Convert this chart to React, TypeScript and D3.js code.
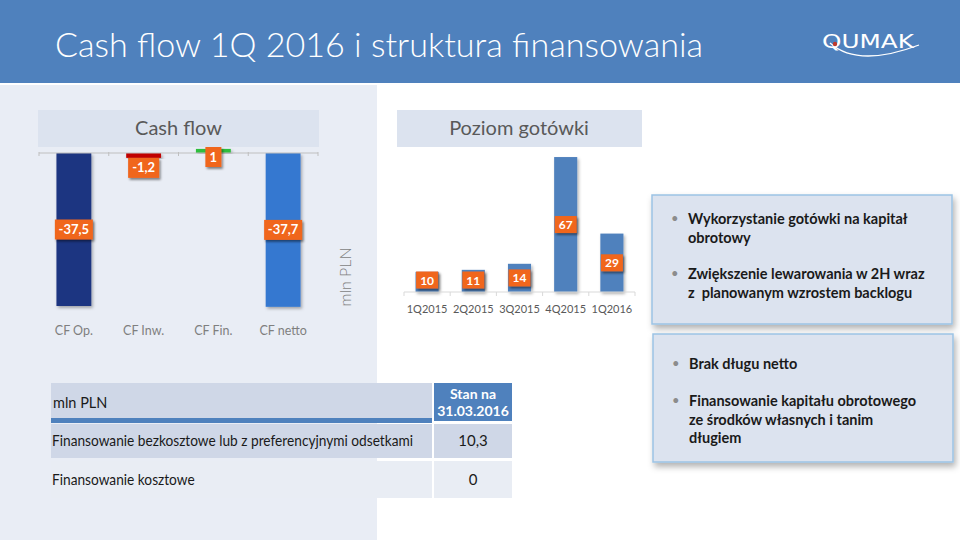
import React from "react";
import * as d3 from "d3";

const cfCategories = ["CF Op.", "CF Inw.", "CF Fin.", "CF netto"];
const cfValues = [-37.5, -1.2, 1, -37.7];
const cfColors = ["#1F3581", "#C00000", "#2DBE3C", "#3478D0"];

const cashCategories = ["1Q2015", "2Q2015", "3Q2015", "4Q2015", "1Q2016"];
const cashValues = [10, 11, 14, 67, 29];

const bulletsTop = [
  ["Wykorzystanie gotówki na kapitał", "obrotowy"],
  ["Zwiększenie lewarowania w 2H wraz", "z  planowanym wzrostem backlogu"],
];
const bulletsBottom = [
  ["Brak długu netto"],
  ["Finansowanie kapitału obrotowego", "ze środków własnych i tanim", "długiem"],
];

const tableHeader = ["mln PLN", "Stan na", "31.03.2016"];
const tableRowLabels = [
  "Finansowanie bezkosztowe lub z preferencyjnymi odsetkami",
  "Finansowanie kosztowe",
];
const tableRowValues = [10.3, 0];

const FONT = "Lato, 'Open Sans', sans-serif";
const ORANGE = "#F0661F";

const plLocale = d3.formatLocale({
  decimal: ",",
  thousands: " ",
  grouping: [3],
  currency: ["", " zł"],
  minus: "-",
});
const fmt = plLocale.format(".1~f");

function BulletBox({ x, y, w, h, items, baselines }: any) {
  let k = 0;
  return (
    <g>
      <rect x={x} y={y} width={w} height={h} fill="#DCE3EF" stroke="#9CC3E5" strokeWidth={1.5} filter="url(#boxsh)" />
      {items.map((lines: string[], i: number) => (
        <g key={i}>
          <text x={x + 19} y={baselines[k] - 1} fontSize={13} fill="#8C8C8C" fontFamily={FONT}>•</text>
          {lines.map((ln, j) => {
            const by = baselines[k++];
            return (
              <text key={j} x={x + 36} y={by} fontSize={14.5} fontWeight={700} fill="#1A1A1A" fontFamily={FONT} style={{ whiteSpace: "pre" }}>
                {ln}
              </text>
            );
          })}
        </g>
      ))}
    </g>
  );
}

export default function App() {
  // Cash flow chart scales
  const xCF = d3.scaleBand<string>().domain(cfCategories).range([39, 318]).paddingInner(0.5).paddingOuter(0.25);
  const yCF = d3.scaleLinear().domain([0, -40]).range([153, 153 + 163.2]);
  const stepCF = xCF.step();

  // Cash level chart scales
  const xCash = d3.scaleBand<string>().domain(cashCategories).range([404, 635]).paddingInner(0.5).paddingOuter(0.25);
  const yCash = d3.scaleLinear().domain([0, 70]).range([292, 292 - 141]);
  const stepCash = xCash.step();

  return (
    <svg width={960} height={540} style={{ position: "absolute", left: 0, top: 0, background: "#fff" }} fontFamily={FONT}>
      <defs>
        <filter id="sh" x="-30%" y="-30%" width="170%" height="170%">
          <feDropShadow dx={1.5} dy={2} stdDeviation={1.2} floodColor="#000" floodOpacity={0.45} />
        </filter>
        <filter id="barsh" x="-30%" y="-10%" width="170%" height="130%">
          <feDropShadow dx={1.5} dy={2} stdDeviation={1.5} floodColor="#000" floodOpacity={0.3} />
        </filter>
        <filter id="boxsh" x="-10%" y="-10%" width="120%" height="130%">
          <feDropShadow dx={2} dy={4} stdDeviation={3} floodColor="#000" floodOpacity={0.3} />
        </filter>
      </defs>

      {/* header */}
      <rect x={0} y={0} width={960} height={83} fill="#4F81BD" />
      <text x={55} y={57} fontSize={33} fontWeight={300} fill="#FFFFFF" fontFamily={FONT} textLength={648} lengthAdjust="spacingAndGlyphs">
        Cash flow 1Q 2016 i struktura finansowania
      </text>
      {/* logo */}
      <g>
        <text x={822} y={48} fontSize={19} fill="#FFFFFF" fontFamily="'DejaVu Sans', sans-serif" textLength={92} lengthAdjust="spacingAndGlyphs">QUMAK</text>
        <path d="M 830 43 Q 858 68 919 45" fill="none" stroke="#FFFFFF" strokeWidth={1.3} />
        <circle cx={835} cy={44} r={2.2} fill="#C0392B" />
      </g>

      {/* left panel */}
      <rect x={0} y={85} width={377} height={455} fill="#E9EDF5" />

      {/* Cash flow chart */}
      <rect x={38} y={110} width={281} height={37} fill="#DCE3EF" />
      <text x={178.5} y={135} textAnchor="middle" fontSize={20} fill="#595959">Cash flow</text>

      {cfCategories.map((c, i) => {
        const v = cfValues[i];
        const x = xCF(c)!;
        const y0 = yCF(0);
        const y1 = yCF(v);
        return (
          <rect key={c} x={x} y={Math.min(y0, y1)} width={xCF.bandwidth()} height={Math.abs(y1 - y0)} fill={cfColors[i]} filter="url(#barsh)" />
        );
      })}
      <line x1={39} x2={318} y1={yCF(0)} y2={yCF(0)} stroke="#BFBFBF" strokeWidth={1} />
      {d3.range(cfCategories.length + 1).map((i) => (
        <line key={i} x1={39 + i * stepCF} x2={39 + i * stepCF} y1={yCF(0) - 1} y2={yCF(0) + 3} stroke="#BFBFBF" />
      ))}
      {cfCategories.map((c, i) => {
        const v = cfValues[i];
        const cx = xCF(c)! + xCF.bandwidth() / 2;
        const hpx = Math.abs(yCF(v) - yCF(0));
        let cy;
        if (hpx > 25) cy = (yCF(v) + yCF(0)) / 2;
        else if (v < 0) cy = yCF(v) + 10;
        else cy = yCF(0) + 4;
        const label = fmt(v);
        const w = Math.max(16, label.length * 7 + 3);
        return (
          <g key={c}>
            <rect x={cx - w / 2} y={cy - 10} width={w} height={20} fill={ORANGE} filter="url(#sh)" />
            <text x={cx} y={cy + 4.5} textAnchor="middle" fontSize={13} fontWeight={700} fill="#FFFFFF">{label}</text>
          </g>
        );
      })}
      {cfCategories.map((c) => (
        <text key={c} x={xCF(c)! + xCF.bandwidth() / 2} y={335} textAnchor="middle" fontSize={12.5} fill="#7F7F7F">{c}</text>
      ))}
      <text transform="translate(351,277) rotate(-90)" textAnchor="middle" fontSize={16} fontWeight={300} fill="#7F7F7F">mln PLN</text>

      {/* Poziom gotówki chart */}
      <rect x={397} y={110} width={245} height={37} fill="#DCE3EF" />
      <text x={519} y={135} textAnchor="middle" fontSize={20} fill="#595959">Poziom gotówki</text>
      {cashCategories.map((c, i) => (
        <rect key={c} x={xCash(c)!} y={yCash(cashValues[i])} width={xCash.bandwidth()} height={yCash(0) - yCash(cashValues[i])} fill="#4F81BD" filter="url(#barsh)" />
      ))}
      <line x1={404} x2={635} y1={yCash(0)} y2={yCash(0)} stroke="#D9D9D9" />
      {d3.range(cashCategories.length + 1).map((i) => (
        <line key={i} x1={404 + i * stepCash} x2={404 + i * stepCash} y1={yCash(0)} y2={yCash(0) + 4} stroke="#D9D9D9" />
      ))}
      {cashCategories.map((c, i) => {
        const v = cashValues[i];
        const cx = xCash(c)! + xCash.bandwidth() / 2;
        const cy = Math.min((yCash(v) + yCash(0)) / 2, yCash(0) - 12);
        return (
          <g key={c}>
            <rect x={cx - 11} y={cy - 8.5} width={22} height={17} fill={ORANGE} filter="url(#sh)" />
            <text x={cx} y={cy + 4.5} textAnchor="middle" fontSize={12} fontWeight={700} fill="#FFFFFF">{fmt(v)}</text>
          </g>
        );
      })}
      {cashCategories.map((c) => (
        <text key={c} x={xCash(c)! + xCash.bandwidth() / 2} y={313} textAnchor="middle" fontSize={11} fill="#595959">{c}</text>
      ))}

      {/* bullet boxes */}
      <BulletBox x={652} y={195} w={300} h={129} items={bulletsTop} baselines={[224, 243, 279, 298]} />
      <BulletBox x={653} y={334} w={300} h={128} items={bulletsBottom} baselines={[369, 406, 425, 443]} />

      {/* table */}
      <rect x={51} y={383} width={381} height={35} fill="#CFD7E7" />
      <rect x={51} y={418} width={381} height={5} fill="#4F81BD" />
      <rect x={434} y={383} width={78} height={38} fill="#4F81BD" />
      <text x={53} y={408} fontSize={14.5} fill="#1A1A1A">{tableHeader[0]}</text>
      <text x={473} y={399} textAnchor="middle" fontSize={14} fontWeight={700} fill="#FFFFFF">{tableHeader[1]}</text>
      <text x={473} y={416} textAnchor="middle" fontSize={14} fontWeight={700} fill="#FFFFFF">{tableHeader[2]}</text>
      {tableRowLabels.map((lab, i) => {
        const top = i === 0 ? 424 : 461;
        const h = i === 0 ? 34 : 37;
        const fill = i === 0 ? "#CFD7E7" : "#E9EDF4";
        const base = i === 0 ? 446 : 485;
        return (
          <g key={lab}>
            <rect x={51} y={top} width={381} height={h} fill={fill} />
            <rect x={434} y={top} width={78} height={h} fill={fill} />
            <text transform={`translate(52,${base}) scale(0.945,1)`} x={0} y={0} fontSize={14.5} fill="#1A1A1A">{lab}</text>
            <text x={473} y={base} textAnchor="middle" fontSize={15} fill="#1A1A1A">{fmt(tableRowValues[i])}</text>
          </g>
        );
      })}
    </svg>
  );
}
